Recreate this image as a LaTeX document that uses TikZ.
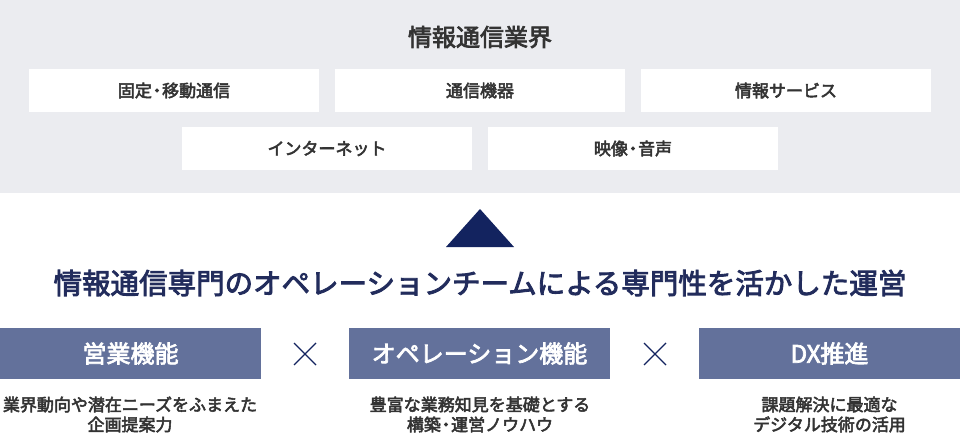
\documentclass[tikz,border=0pt]{standalone}
\usepackage{fontspec}
\setmainfont{Noto Sans CJK JP}[FakeBold=3]
\definecolor{bggray}{HTML}{EBECF0}
\definecolor{txtgray}{HTML}{333333}
\definecolor{navy}{HTML}{13235F}
\definecolor{titlenavy}{HTML}{222C5C}
\definecolor{boxblue}{HTML}{63719B}
\newcommand{\nakaguro}{\kern-0.2em・\kern-0.2em}

\begin{document}
\begin{tikzpicture}[x=1pt,y=-1pt,
    cat/.style={fill=white, minimum width=290pt, minimum height=43pt, inner sep=0pt,
      text=txtgray, font=\fontsize{17}{20}\selectfont},
    func/.style={fill=boxblue, minimum width=261pt, minimum height=51pt, inner sep=0pt,
      text=white, font=\fontsize{24}{28}\selectfont},
    desc/.style={align=center, inner sep=0pt, text=txtgray,
      font=\fontsize{17}{20}\selectfont},
    times/.style={navy, line width=1.3pt}]
    \useasboundingbox (0,0) rectangle (960,433);
    \fill[bggray] (0,0) rectangle (960,193);
    \node[text=txtgray, font=\fontsize{24}{28}\selectfont] (IND) at (480,37) {情報通信業界};
    \node[cat] (C1) at (174,90.5) {固定\nakaguro 移動通信};
    \node[cat] (C2) at (480,90.5) {通信機器};
    \node[cat] (C3) at (786,90.5) {情報サービス};
    \node[cat] (C4) at (327,148.5) {インターネット};
    \node[cat] (C5) at (633,148.5) {映像\nakaguro 音声};
    % arrow head
    \coordinate (TRI) at (480,209);
    \fill[navy] (TRI) -- ++(34,38) -- ++(-68,0) -- cycle;
    \node[text=titlenavy, font=\fontsize{28.5}{32}\selectfont] (TEAM) at (480,283)
      {情報通信専門のオペレーションチームによる専門性を活かした運営};
    \node[func] (F1) at (130.5,353.5) {営業機能};
    \node[func] (F2) at (479.5,353.5) {オペレーション機能};
    \node[func] (F3) at (829.5,353.5) {DX推進};
    \coordinate (X1) at (305,354);
    \coordinate (X2) at (655,354);
    \foreach \c in {X1,X2} {
      \draw[times] (\c) +(-11,-11) -- +(11,11);
      \draw[times] (\c) +(-11,11) -- +(11,-11);
    }
    \node[desc] (D1) at (130,414.5) {業界動向や潜在ニーズをふまえた\\企画提案力};
    \node[desc] (D2) at (480,414.5) {豊富な業務知見を基礎とする\\構築\nakaguro 運営ノウハウ};
    \node[desc] (D3) at (829.5,414.5) {課題解決に最適な\\デジタル技術の活用};
\end{tikzpicture}
\end{document}
